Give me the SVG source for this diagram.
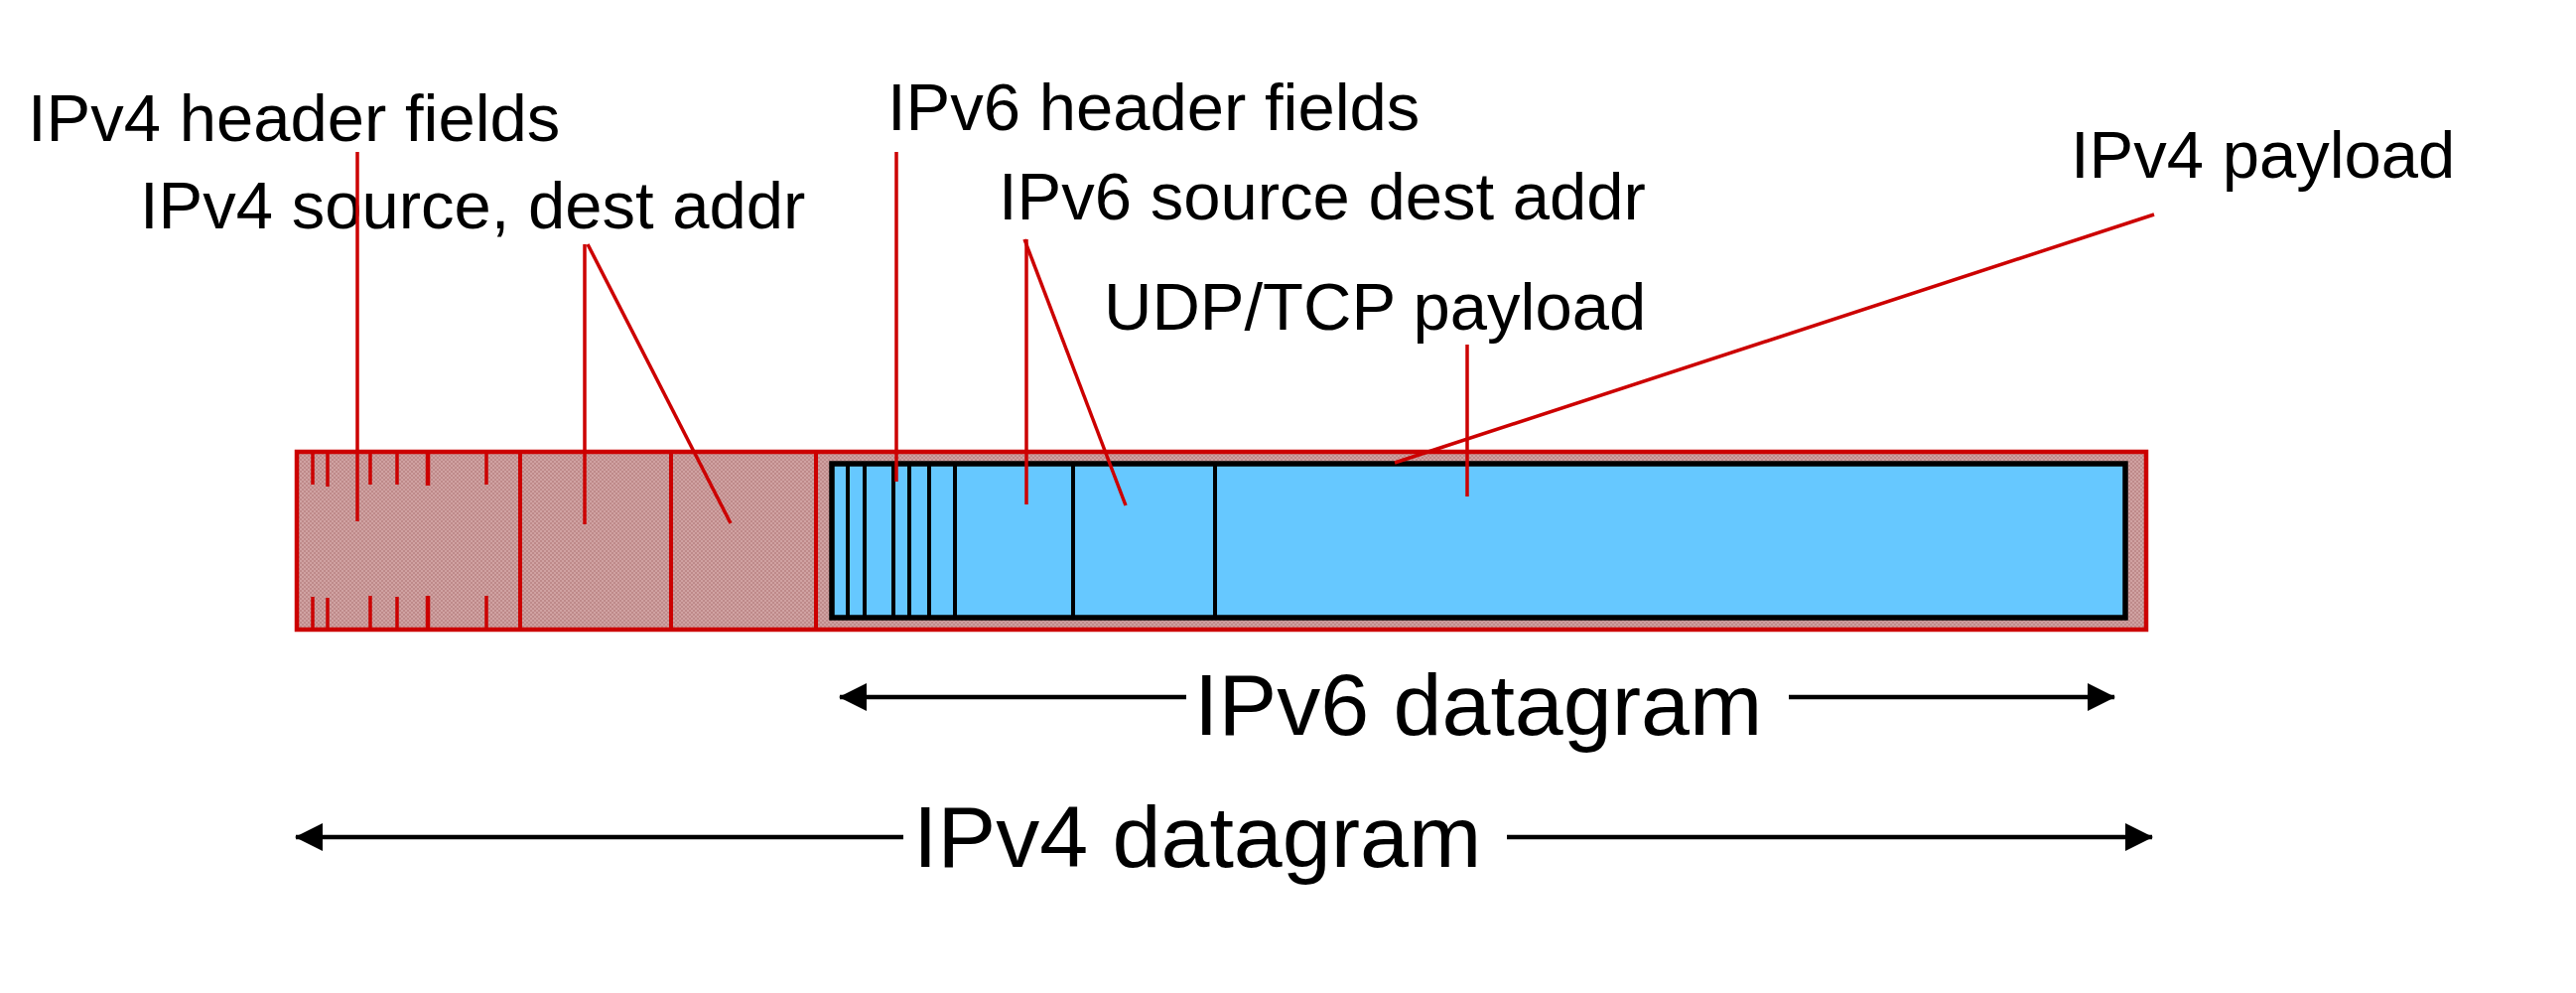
<svg xmlns="http://www.w3.org/2000/svg" width="2595" height="1000" viewBox="0 0 2595 1000">
  <defs>
    <pattern id="hatch" width="4" height="4" patternUnits="userSpaceOnUse">
      <rect width="4" height="4" fill="#D0A2A2"/>
      <rect x="0" y="0" width="2" height="2" fill="#BE8A8A"/>
      <rect x="2" y="2" width="2" height="2" fill="#BE8A8A"/>
    </pattern>
    <marker id="ah" viewBox="0 0 28 28" refX="27" refY="14" markerWidth="28" markerHeight="28" markerUnits="userSpaceOnUse" orient="auto-start-reverse">
      <path d="M0,0 L28,14 L0,28 Z" fill="#000"/>
    </marker>
  </defs>
  <style>
    .lbl { font-family: "Liberation Sans", Arial, sans-serif; font-size: 67px; fill: #000; }
    .big { font-family: "Liberation Sans", Arial, sans-serif; font-size: 88px; fill: #000; }
    .red { stroke: #CC0000; stroke-width: 3.5; fill: none; }
    .redb { stroke: #CC0000; stroke-width: 4; fill: none; }
    .blk { stroke: #000; stroke-width: 4; fill: none; }
    .dim { stroke: #000; stroke-width: 4.5; fill: none; }
  </style>
  <rect width="2595" height="1000" fill="#FFFFFF"/>

  <g id="ipv4-datagram">
    <rect x="299" y="455" width="1863" height="179" fill="url(#hatch)" stroke="#CC0000" stroke-width="4.5"/>
    <g class="redb">
      <line x1="524" y1="455" x2="524" y2="634"/>
      <line x1="676" y1="455" x2="676" y2="634"/>
      <line x1="822" y1="455" x2="822" y2="634"/>
    </g>
    <g class="red">
      <path d="M315,455 V488 M315,601 V634"/>
      <path d="M330,455 V490 M330,602 V634"/>
      <path d="M373,455 V488 M373,600 V634"/>
      <path d="M400,455 V488 M400,601 V634"/>
      <path d="M431,455 V489 M431,600 V634" stroke-width="4.5"/>
      <path d="M490,455 V488 M490,600 V634"/>
    </g>
  </g>

  <g id="ipv6-datagram">
    <rect x="838" y="467" width="1303" height="155" fill="#66C8FF" stroke="#000" stroke-width="5.5"/>
    <g class="blk">
      <line x1="854" y1="467" x2="854" y2="622"/>
      <line x1="871" y1="467" x2="871" y2="622"/>
      <line x1="900" y1="467" x2="900" y2="622"/>
      <line x1="916" y1="467" x2="916" y2="622"/>
      <line x1="936" y1="467" x2="936" y2="622"/>
      <line x1="962" y1="467" x2="962" y2="622"/>
      <line x1="1081" y1="467" x2="1081" y2="624"/>
      <line x1="1224" y1="467" x2="1224" y2="624"/>
    </g>
  </g>

  <g id="labels">
    <text id="lbl-ipv4-header" class="lbl" x="28" y="142">IPv4 header fields</text>
    <text id="lbl-ipv4-addr" class="lbl" x="141" y="230">IPv4 source, dest addr</text>
    <text id="lbl-ipv6-header" class="lbl" x="894" y="131">IPv6 header fields</text>
    <text id="lbl-ipv6-addr" class="lbl" x="1006" y="221">IPv6 source dest addr</text>
    <text id="lbl-udp" class="lbl" x="1112" y="332">UDP/TCP payload</text>
    <text id="lbl-ipv4-payload" class="lbl" x="2086" y="179">IPv4 payload</text>
    <text id="lbl-ipv6-dg" class="big" x="1203" y="740">IPv6 datagram</text>
    <text id="lbl-ipv4-dg" class="big" x="920" y="873">IPv4 datagram</text>
  </g>

  <g id="connectors">
    <g class="red">
      <line x1="360" y1="153" x2="360" y2="525"/>
      <line x1="589" y1="246" x2="589" y2="528"/>
      <line x1="592" y1="246" x2="736" y2="527"/>
      <line x1="903" y1="153" x2="903" y2="485"/>
      <line x1="1034" y1="241" x2="1034" y2="508"/>
      <line x1="1032" y1="241" x2="1134" y2="509"/>
      <line x1="1478" y1="347" x2="1478" y2="500"/>
      <line x1="2170" y1="216" x2="1405" y2="466"/>
    </g>
    <g class="dim">
      <line x1="1195" y1="702" x2="846" y2="702" marker-end="url(#ah)"/>
      <line x1="1802" y1="702" x2="2130" y2="702" marker-end="url(#ah)"/>
      <line x1="910" y1="843" x2="298" y2="843" marker-end="url(#ah)"/>
      <line x1="1518" y1="843" x2="2168" y2="843" marker-end="url(#ah)"/>
    </g>
  </g>
</svg>
